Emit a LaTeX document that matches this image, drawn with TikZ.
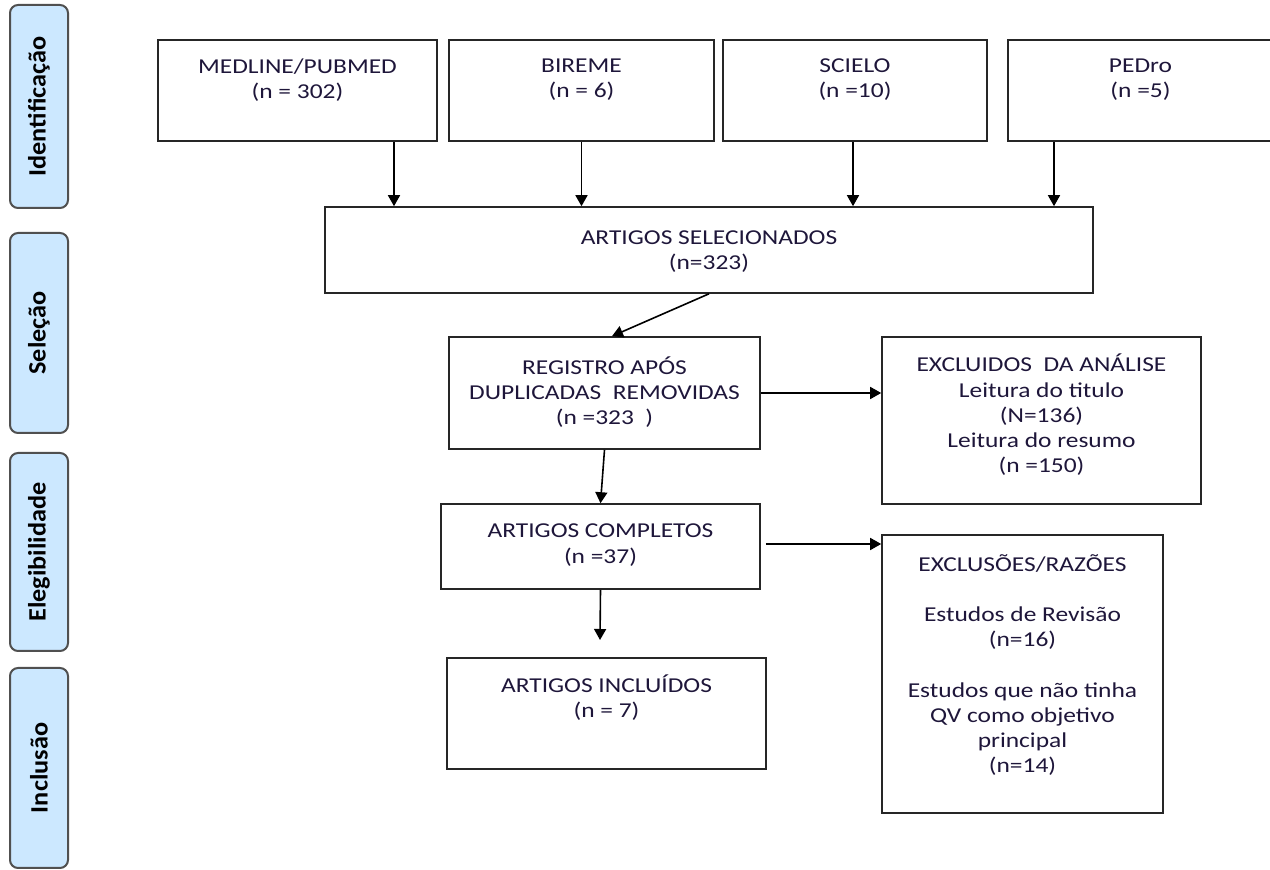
\documentclass[tikz,border=0pt]{standalone}
\usepackage{fontspec}
\setmainfont{Carlito}[FakeStretch=1.2]
\newfontfamily\sidefont{Carlito}[FakeStretch=1.05]
\usepackage{tikz}
\usetikzlibrary{arrows.meta, fit}
\definecolor{ink}{RGB}{30, 22, 58}
\definecolor{phasefill}{RGB}{204, 232, 255}
\definecolor{phaseline}{RGB}{80, 80, 80}

\begin{document}
\begin{tikzpicture}[x=0.5pt, y=-0.5pt,
  box/.style={draw=black!85, line width=0.8pt, inner sep=0pt},
  txt/.style={align=center, text=ink, font=\fontsize{10.6}{12.6}\selectfont},
  phase/.style={draw=phaseline, fill=phasefill, line width=1pt, rounded corners=4pt,
    rotate=90, minimum height=29pt, inner sep=0pt,
    font=\sidefont\bfseries\fontsize{12.5}{14}\selectfont},
  arr/.style={line width=0.8pt, -{Triangle[width=6pt, length=5.5pt]}}]

  \useasboundingbox (0,0) rectangle (1270,870);

  % phases
  \node[phase, minimum width=101.5pt] (ident) at (39,106.5) {Identificação};
  \node[phase, minimum width=100pt] (selec) at (39,333) {Seleção};
  \node[phase, minimum width=99pt] (eleg) at (39,552) {Elegibilidade};
  \node[phase, minimum width=100pt] (incl) at (39,768) {Inclusão};

  % databases
  \node[box, fit={(158,40) (437,141)}] (medline) {};
  \node[txt] (medline-t) at (297.5,80) {MEDLINE/PUBMED\\(n = 302)};
  \node[box, fit={(449,40) (714,141)}] (bireme) {};
  \node[txt] (bireme-t) at (581.5,80) {BIREME\\(n = 6)};
  \node[box, fit={(723,40) (987,141)}] (scielo) {};
  \node[txt] (scielo-t) at (855,80) {SCIELO\\(n =10)};
  \node[box, fit={(1008,40) (1273,141)}] (pedro) {};
  \node[txt] (pedro-t) at (1140.5,80) {PEDro\\(n =5)};

  \node[box, fit={(325,207) (1093,293)}] (sel) {};
  \node[txt] (sel-t) at (709,251.5) {ARTIGOS SELECIONADOS\\(n=323)};

  \node[box, fit={(449,337) (760,449)}] (reg) {};
  \node[txt] (reg-t) at (604.5,392) {REGISTRO APÓS\\DUPLICADAS\ \ REMOVIDAS\\(n =323\ \ )};

  \node[box, fit={(882,337) (1201,504)}] (excl) {};
  \node[txt] (excl-t) at (1041.5,415) {EXCLUIDOS\ \ DA ANÁLISE\\Leitura do titulo\\(N=136)\\Leitura do resumo\\(n =150)};

  \node[box, fit={(441,504) (760,589)}] (comp) {};
  \node[txt] (comp-t) at (600.5,545) {ARTIGOS COMPLETOS\\(n =37)};

  \node[box, fit={(882,535) (1163,813)}] (exclr) {};
  \node[txt] (exclr-t) at (1022.5,665) {EXCLUSÕES/RAZÕES\\[12.6pt]Estudos de Revisão\\(n=16)\\[12.6pt]Estudos que não tinha\\QV como objetivo\\principal\\(n=14)};

  \node[box, fit={(447,658) (766,769)}] (inc) {};
  \node[txt] (inc-t) at (606.5,698) {ARTIGOS INCLUÍDOS\\(n = 7)};

  % arrows
  \foreach \src/\dx in {medline/48.25, bireme/0, scielo/-1, pedro/-43.25} {
    \coordinate (\src-o) at ([xshift=\dx pt]\src.south);
    \draw[arr] (\src-o) -- (\src-o |- sel.north);
  }
  \draw[arr] (sel.south) -- ([xshift=3.75pt]reg.north);
  \draw[arr] (reg.east) -- (reg.east -| excl.west);
  \draw[arr] (reg.south) -- (comp.north);
  \coordinate (comp-o) at ([xshift=2.5pt, yshift=1.25pt]comp.east);
  \draw[arr] (comp-o) -- (comp-o -| exclr.west);
  \coordinate (inc-in) at (600,640);
  \draw[arr] (comp.south) -- (inc-in);

\end{tikzpicture}
\end{document}
